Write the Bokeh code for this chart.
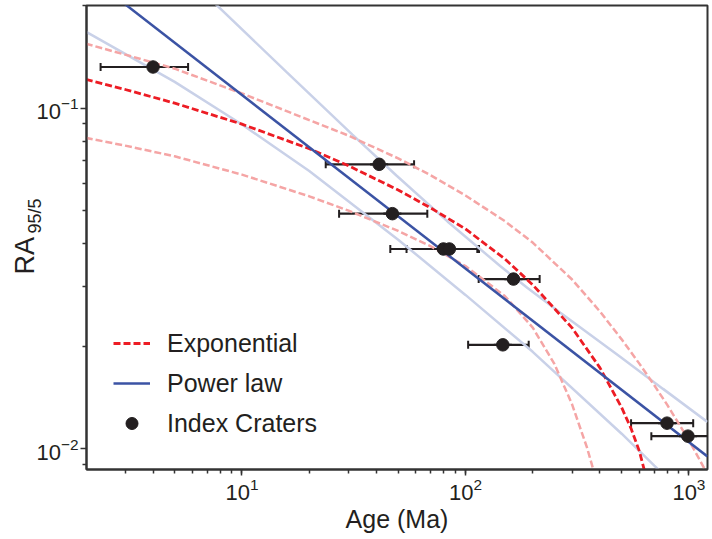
from bokeh.plotting import figure
from bokeh.models import (ColumnDataSource, Whisker, TeeHead, Legend, LegendItem,
                          Range1d, Title, FixedTicker, LogTickFormatter)
from bokeh.embed import file_html
from bokeh.resources import INLINE

# ---------------- data ----------------
# Index craters: age (Ma), age error range, RA95/5
age = [4.0, 41.1, 47.1, 79.7, 84.7, 164.0, 147.0, 798.0, 990.0]
age_lo = [2.33, 23.7, 27.2, 46.1, 54.5, 114.6, 102.8, 551.0, 679.0]
age_hi = [5.74, 58.9, 67.5, 113.0, 115.0, 214.8, 191.9, 1045.0, 1400.0]
ra = [0.132, 0.0684, 0.0490, 0.0386, 0.0386, 0.0315, 0.0202, 0.0119, 0.0109]

# Power-law fit
pow_x = [2, 1210]
pow_y = [0.248, 0.0095]

# Power-law envelope (light blue)
pow_up_x = [7, 15.8, 31.2, 49.1, 83.1, 143, 189, 266, 494, 766, 1210]
pow_up_y = [0.213, 0.1277, 0.0836, 0.0634, 0.0465, 0.0344, 0.0297, 0.0251, 0.0186, 0.0150, 0.0120]
pow_lo_x = [2, 3, 5, 10, 20, 50, 100, 200, 500, 700, 800]
pow_lo_y = [0.1676, 0.1443, 0.1194, 0.0895, 0.0654, 0.0411, 0.0283, 0.01927, 0.01108, 0.00893, 0.0082]

# Exponential fit
exp_x = [2, 3, 5, 10, 20, 30, 50, 70, 100, 150, 200, 300, 400, 500, 550, 600, 650]
exp_y = [0.1215, 0.1134, 0.1034, 0.0897, 0.0760, 0.0677, 0.0575, 0.0509, 0.0442, 0.0361,
         0.0303, 0.02265, 0.01729, 0.01322, 0.01151, 0.00985, 0.00806]

# Exponential envelope (pink)
exp_up_x = [2, 3, 5, 10, 20, 30, 50, 70, 100, 150, 200, 300, 400, 500, 600, 700, 800, 1000, 1200]
exp_up_y = [0.1545, 0.1435, 0.1305, 0.1104, 0.0922, 0.0830, 0.0712, 0.0635, 0.0554, 0.0466,
            0.0403, 0.0314, 0.0253, 0.02096, 0.01779, 0.01537, 0.01346, 0.01060, 0.00852]
exp_lo_x = [2, 3, 5, 10, 20, 30, 50, 70, 100, 150, 200, 250, 300, 350, 380]
exp_lo_y = [0.0818, 0.0776, 0.0722, 0.0638, 0.0551, 0.0500, 0.0436, 0.0393, 0.0344, 0.0281,
            0.0227, 0.01776, 0.01351, 0.01008, 0.00835]

x_range = (2.015, 1211.0)
y_range = (0.0087, 0.2)
y_major = [0.01, 0.1]
y_minor = [0.009, 0.02, 0.03, 0.04, 0.05, 0.06, 0.07, 0.08, 0.09, 0.2]

# ---------------- styling ----------------
FONT = "Liberation Sans"
INK = "#231f20"
AX = "#333333"
BLUE = "#3b53a4"
RED = "#ed1c24"
PINK = "#f5a5a5"
LBLUE = "#c9d1e8"

p = figure(width=712, height=539, x_axis_type="log", y_axis_type="log",
           x_range=Range1d(*x_range), y_range=Range1d(*y_range),
           output_backend="svg", toolbar_location=None,
           min_border_left=86, min_border_right=5, min_border_top=5, min_border_bottom=70)

p.xgrid.visible = False
p.ygrid.visible = False
p.outline_line_color = AX
p.outline_line_width = 2
p.background_fill_color = "white"
p.border_fill_color = "white"

p.yaxis.ticker = FixedTicker(ticks=y_major, minor_ticks=y_minor)
p.yaxis.formatter = LogTickFormatter()

for ax in (p.xaxis[0], p.yaxis[0]):
    ax.axis_line_color = AX
    ax.axis_line_width = 2
    ax.major_tick_line_color = AX
    ax.major_tick_line_width = 1.5
    ax.minor_tick_line_color = AX
    ax.minor_tick_line_width = 1.5
    ax.major_tick_in = 0
    ax.major_tick_out = 6
    ax.minor_tick_in = 0
    ax.minor_tick_out = 4
    ax.major_label_text_font = FONT
    ax.major_label_text_font_size = "22px"
    ax.major_label_text_color = INK
    ax.major_label_standoff = 2

p.xaxis.axis_label = "Age (Ma)"
p.xaxis.axis_label_text_font = FONT
p.xaxis.axis_label_text_font_size = "25px"
p.xaxis.axis_label_text_font_style = "normal"
p.xaxis.axis_label_text_color = INK
p.xaxis.axis_label_standoff = 2

# y-axis title: "RA" with subscript "95/5", set in the left side panel
t_sub = Title(text="95/5", align="left", vertical_align="bottom", offset=236, standoff=-22,
              text_font=FONT, text_font_size="18px", text_font_style="normal",
              text_color=INK)
t_ra = Title(text="RA", align="left", vertical_align="bottom", offset=195, standoff=-13,
             text_font=FONT, text_font_size="27px", text_font_style="normal",
             text_color=INK)
p.add_layout(t_sub, "left")
p.add_layout(t_ra, "left")

# ---------------- glyphs ----------------
p.line(pow_up_x, pow_up_y, line_color=LBLUE, line_width=2.5)
p.line(pow_lo_x, pow_lo_y, line_color=LBLUE, line_width=2.5)
p.line(exp_up_x, exp_up_y, line_color=PINK, line_width=2.5, line_dash="7 3")
p.line(exp_lo_x, exp_lo_y, line_color=PINK, line_width=2.5, line_dash="7 3")
r_exp = p.line(exp_x, exp_y, line_color=RED, line_width=2.8, line_dash="7 3")
r_pow = p.line(pow_x, pow_y, line_color=BLUE, line_width=2.5)

src = ColumnDataSource(dict(age=age, lo=age_lo, hi=age_hi, ra=ra))
whisk = Whisker(source=src, base="ra", lower="lo", upper="hi", dimension="width",
                line_color=INK, line_width=2.2,
                upper_head=TeeHead(size=8, line_color=INK, line_width=2),
                lower_head=TeeHead(size=8, line_color=INK, line_width=2))
p.add_layout(whisk)
r_dash = p.scatter("age", "ra", source=src, marker="dash", size=18, line_width=2.2,
                   line_color=INK)
r_pts = p.scatter("age", "ra", source=src, marker="circle", size=12.5,
                  fill_color=INK, line_color=INK)

legend = Legend(items=[LegendItem(label="Exponential", renderers=[r_exp]),
                       LegendItem(label="Power law", renderers=[r_pow]),
                       LegendItem(label="Index Craters", renderers=[r_dash, r_pts])],
                location=(27, 31), border_line_color=None, background_fill_alpha=0,
                padding=0, margin=0, spacing=10, glyph_width=37, glyph_height=30,
                label_height=30, label_standoff=17, label_text_font=FONT,
                label_text_font_size="25px", label_text_color=INK)
p.add_layout(legend)

open("out.html", "w").write(file_html(p, INLINE))
